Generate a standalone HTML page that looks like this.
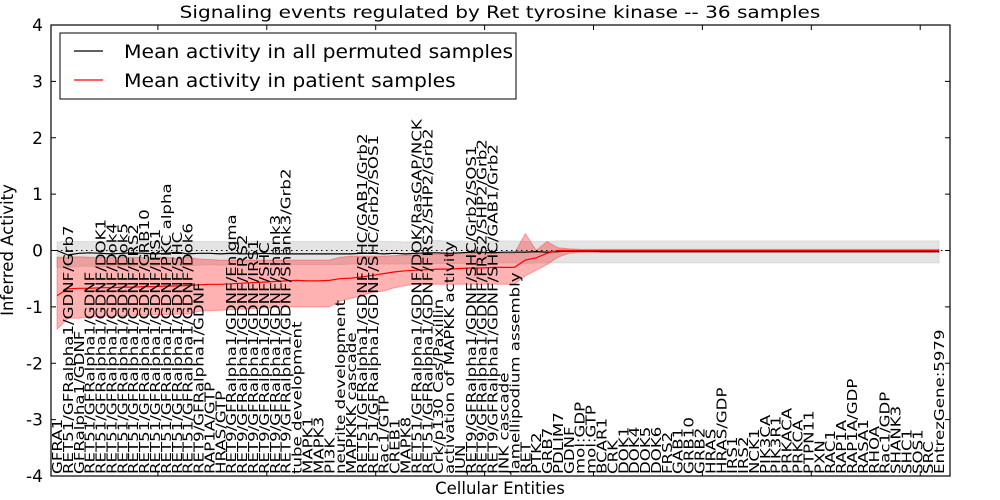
<!DOCTYPE html>
<html><head><meta charset="utf-8"><style>
body{margin:0;background:#fff;}
svg{display:block;font-family:"DejaVu Sans","Liberation Sans",sans-serif;}
</style></head><body>
<svg id="chart" width="1000" height="500"></svg>
<script>
const categories=["GFRA1","RET51/GFRalpha1/GDNF/Grb7","GFRalpha1/GDNF","RET51/GFRalpha1/GDNF","RET51/GFRalpha1/GDNF/DOK1","RET51/GFRalpha1/GDNF/Dok4","RET51/GFRalpha1/GDNF/Dok5","RET51/GFRalpha1/GDNF/FRS2","RET51/GFRalpha1/GDNF/GRB10","RET51/GFRalpha1/GDNF/IRS1","RET51/GFRalpha1/GDNF/PKC alpha","RET51/GFRalpha1/GDNF/SHC","RET51/GFRalpha1/GDNF/Dok6","RET9/GFRalpha1/GDNF","RAP1A/GTP","HRAS/GTP","RET9/GFRalpha1/GDNF/Enigma","RET9/GFRalpha1/GDNF/FRS2","RET9/GFRalpha1/GDNF/IRS1","RET9/GFRalpha1/GDNF/SHC","RET9/GFRalpha1/GDNF/Shank3","RET9/GFRalpha1/GDNF/Shank3/Grb2","tube development","MAPK1","MAPK3","PI3K","neurite development","MAPKKK cascade","RET51/GFRalpha1/GDNF/SHC/GAB1/Grb2","RET51/GFRalpha1/GDNF/SHC/Grb2/SOS1","Rac1/GTP","CREB1","MAPK8","RET51/GFRalpha1/GDNF/DOK/RasGAP/NCK","RET51/GFRalpha1/GDNF/FRS2/SHP2/Grb2","Crk/p130 Cas/Paxillin","activation of MAPKK activity","JUN","RET9/GFRalpha1/GDNF/SHC/Grb2/SOS1","RET9/GFRalpha1/GDNF/FRS2/SHP2/Grb2","RET9/GFRalpha1/GDNF/SHC/GAB1/Grb2","JNK cascade","lamellipodium assembly","RET","PTK2","GRB7","PDLIM7","GDNF","mol:GDP","mol:GTP","BCAR1","CRK","DOK1","DOK4","DOK5","DOK6","FRS2","GAB1","GRB10","GRB2","HRAS","HRAS/GDP","IRS1","IRS2","NCK1","PIK3CA","PIK3R1","PRKACA","PRKCA","PTPN11","PXN","RAC1","RAP1A","RAP1A/GDP","RASA1","RHOA","Rac1/GDP","SHANK3","SHC1","SOS1","SRC","EntrezGene:5979"];
const redMean=[-0.80,-0.68,-0.67,-0.67,-0.66,-0.66,-0.65,-0.65,-0.64,-0.64,-0.63,-0.63,-0.62,-0.61,-0.60,-0.60,-0.59,-0.58,-0.57,-0.56,-0.55,-0.54,-0.53,-0.54,-0.54,-0.53,-0.50,-0.49,-0.47,-0.44,-0.41,-0.38,-0.36,-0.35,-0.34,-0.33,-0.33,-0.32,-0.31,-0.31,-0.30,-0.30,-0.30,-0.17,-0.13,-0.05,0,0,0,0,0,0,0,0,0,0,0,0,0,0,0,0,0,0,0,0,0,0,0,0,0,0,0,0,0,0,0,0,0,0,0,0];
const redLow=[-1.40,-1.20,-1.20,-1.18,-1.17,-1.16,-1.16,-1.15,-1.15,-1.14,-1.14,-1.13,-1.13,-1.08,-1.07,-1.06,-1.05,-1.04,-1.03,-1.02,-1.01,-1.00,-1.00,-1.00,-1.00,-1.00,-0.90,-0.85,-0.80,-0.74,-0.72,-0.66,-0.62,-0.60,-0.60,-0.60,-0.60,-0.60,-0.60,-0.60,-0.60,-0.60,-0.60,-0.45,-0.35,-0.25,-0.12,-0.05,-0.03,-0.03,-0.03,-0.03,-0.03,-0.03,-0.03,-0.03,-0.03,-0.03,-0.03,-0.03,-0.03,-0.03,-0.03,-0.03,-0.03,-0.03,-0.03,-0.03,-0.03,-0.03,-0.03,-0.03,-0.03,-0.03,-0.03,-0.03,-0.03,-0.03,-0.03,-0.03,-0.03,-0.03];
const redHigh=[-0.12,-0.12,-0.11,-0.12,-0.12,-0.13,-0.12,-0.12,-0.13,-0.12,-0.12,-0.14,-0.12,-0.15,-0.16,-0.17,-0.17,-0.17,-0.17,-0.17,-0.17,-0.17,-0.17,-0.17,-0.17,-0.17,-0.12,-0.10,-0.10,-0.10,-0.10,-0.09,-0.08,-0.08,-0.07,-0.06,-0.06,-0.05,-0.05,-0.05,-0.05,-0.05,-0.05,0.30,0.00,0.16,0.05,0.03,0.02,0.02,0.02,0.02,0.02,0.02,0.02,0.02,0.02,0.02,0.02,0.02,0.02,0.02,0.02,0.02,0.02,0.02,0.02,0.02,0.02,0.02,0.02,0.02,0.02,0.02,0.02,0.02,0.02,0.02,0.02,0.02,0.02,0.02];
const grayMean=[0.00,-0.08,-0.05,-0.04,-0.05,-0.06,-0.05,-0.04,-0.05,-0.06,-0.05,-0.03,-0.06,-0.05,-0.05,-0.06,-0.05,-0.06,-0.06,-0.05,-0.06,-0.06,-0.06,-0.06,-0.06,-0.06,-0.06,-0.06,-0.05,-0.05,-0.06,-0.05,-0.06,-0.05,-0.04,-0.04,-0.05,-0.04,-0.03,-0.03,-0.04,-0.03,-0.03,-0.03,-0.02,-0.03,-0.02,-0.01,-0.01,-0.01,-0.02,-0.02,-0.02,-0.02,-0.02,-0.02,-0.02,-0.02,-0.02,-0.02,-0.02,-0.02,-0.02,-0.02,-0.02,-0.02,-0.02,-0.02,-0.02,-0.02,-0.02,-0.02,-0.02,-0.02,-0.02,-0.02,-0.02,-0.02,-0.02,-0.02,-0.02,-0.02];
const grayLow=[-0.30,-0.30,-0.28,-0.28,-0.29,-0.28,-0.27,-0.28,-0.27,-0.28,-0.26,-0.26,-0.27,-0.26,-0.25,-0.26,-0.25,-0.26,-0.25,-0.25,-0.26,-0.25,-0.25,-0.25,-0.25,-0.25,-0.25,-0.24,-0.24,-0.24,-0.24,-0.24,-0.24,-0.23,-0.24,-0.23,-0.23,-0.23,-0.23,-0.22,-0.22,-0.22,-0.22,-0.23,-0.22,-0.22,-0.22,-0.22,-0.22,-0.22,-0.22,-0.22,-0.22,-0.22,-0.22,-0.22,-0.22,-0.22,-0.22,-0.22,-0.22,-0.22,-0.22,-0.22,-0.22,-0.22,-0.22,-0.22,-0.22,-0.22,-0.22,-0.22,-0.22,-0.22,-0.22,-0.22,-0.22,-0.22,-0.22,-0.22,-0.22,-0.22];
const grayHigh=[0.15,0.16,0.16,0.16,0.16,0.16,0.16,0.16,0.16,0.16,0.16,0.16,0.16,0.16,0.16,0.16,0.16,0.16,0.16,0.16,0.16,0.16,0.16,0.16,0.16,0.16,0.16,0.16,0.18,0.17,0.16,0.16,0.15,0.16,0.17,0.18,0.16,0.17,0.16,0.17,0.16,0.17,0.17,0.16,0.16,0.16,0.17,0.17,0.17,0.17,0.17,0.17,0.17,0.17,0.17,0.17,0.17,0.17,0.17,0.17,0.17,0.17,0.17,0.17,0.17,0.17,0.17,0.17,0.17,0.17,0.17,0.17,0.17,0.17,0.17,0.17,0.17,0.17,0.17,0.17,0.17,0.17];
const yTicks=[-4,-3,-2,-1,0,1,2,3,4];
const xTicks=[10,20,30,40,50,60,70,80];

const L=51,R=950,T=25,B=476;
const xs=i=>57+10.89*i;
const ys=v=>T+(4-v)*(B-T)/8;
const svg=document.getElementById('chart');
const NS='http://www.w3.org/2000/svg';
function mk(tag,attrs,parent){const e=document.createElementNS(NS,tag);for(const k in attrs)e.setAttribute(k,attrs[k]);(parent||svg).appendChild(e);return e;}
function band(lo,hi,fill,op,name){
  let d='M'+lo.map((v,i)=>xs(i).toFixed(1)+','+ys(v).toFixed(1)).join('L');
  for(let i=hi.length-1;i>=0;i--)d+='L'+xs(i).toFixed(1)+','+ys(hi[i]).toFixed(1);
  const p=mk('path',{d:d+'Z',fill:fill,'fill-opacity':op,stroke:fill,'stroke-opacity':op,'stroke-width':1});
  
  
}
function line(vals,color,name){
  const p=mk('path',{d:'M'+vals.map((v,i)=>xs(i).toFixed(1)+','+ys(v).toFixed(1)).join('L'),fill:'none',stroke:color,'stroke-width':1.2});
  
  
}
band(grayLow,grayHigh,'#bbbbbb',0.4,'permuted-range-band');
band(redLow,redHigh,'#ff0000',0.3,'patient-range-band');
const zl=mk('line',{x1:L,x2:R,y1:ys(0),y2:ys(0),stroke:'#000','stroke-dasharray':'1.5,3.5','stroke-width':1});


line(grayMean,'#000','permuted-mean-line');
line(redMean,'#ff0000','patient-mean-line');
const fr=mk('rect',{x:L,y:T,width:R-L,height:B-T,fill:'none',stroke:'#000','stroke-width':1.2});


yTicks.forEach(v=>{
  const y=ys(v);
  mk('line',{x1:L,x2:L+5,y1:y,y2:y,stroke:'#000'});
  mk('line',{x1:R-5,x2:R,y1:y,y2:y,stroke:'#000'});
  const t=mk('text',{x:L-8,y:y+6,'text-anchor':'end','font-size':17});
  t.textContent=v;
  
  
});
xTicks.forEach(v=>{
  const x=xs(v)-8;
  mk('line',{x1:x,x2:x,y1:T,y2:T+5,stroke:'#000'});
  mk('line',{x1:x,x2:x,y1:B-5,y2:B,stroke:'#000'});
});
categories.forEach((c,i)=>{
  const x=xs(i)+5;
  const t=mk('text',{x:0,y:0,transform:'translate('+x.toFixed(1)+',474) rotate(-90) scale(1.23,1)','font-size':13.5});
  t.textContent=c;
  
  
});
const title=mk('text',{x:0,y:0,transform:'translate(500,18) scale(1.18,1)','text-anchor':'middle','font-size':17});
title.textContent='Signaling events regulated by Ret tyrosine kinase -- 36 samples';


const yl=mk('text',{x:0,y:0,transform:'translate(13,250) rotate(-90)','text-anchor':'middle','font-size':16.5});
yl.textContent='Inferred Activity';


const xl=mk('text',{x:500,y:494,'text-anchor':'middle','font-size':16.5});
xl.textContent='Cellular Entities';


const lg=mk('g',{});


mk('rect',{x:60,y:33,width:456,height:66,fill:'#fff',stroke:'#000','stroke-width':1},lg);
mk('line',{x1:74,x2:103,y1:51,y2:51,stroke:'#000','stroke-width':1.2},lg);
mk('line',{x1:74,x2:103,y1:80,y2:80,stroke:'#ff0000','stroke-width':1.2},lg);
const l1=mk('text',{x:0,y:0,transform:'translate(124,58) scale(1.1,1)','font-size':18.5},lg);
l1.textContent='Mean activity in all permuted samples';


const l2=mk('text',{x:0,y:0,transform:'translate(124,87) scale(1.1,1)','font-size':18.5},lg);
l2.textContent='Mean activity in patient samples';


</script>
</body></html>
